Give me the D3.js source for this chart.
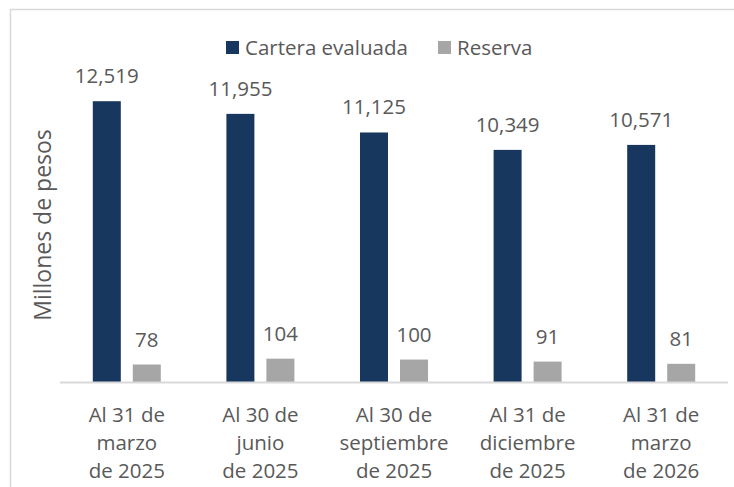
<!DOCTYPE html>
<html>
<head>
<meta charset="utf-8">
<script src="https://cdn.jsdelivr.net/npm/d3@7"></script>
<style>
  body { margin: 0; background: #fff; }
  text { font-family: "Open Sans", sans-serif; fill: #595959; }
</style>
</head>
<body>
<div id="chart"></div>
<script>
(function(){

const categories = [
  ["Al 31 de", "marzo", "de 2025"],
  ["Al 30 de", "junio", "de 2025"],
  ["Al 30 de", "septiembre", "de 2025"],
  ["Al 31 de", "diciembre", "de 2025"],
  ["Al 31 de", "marzo", "de 2026"]
];
const cartera = [12519, 11955, 11125, 10349, 10571];
const reserva = [78, 104, 100, 91, 81];
const seriesNames = ["Cartera evaluada", "Reserva"];
const colors = ["#17375e", "#a6a6a6"];

const width = 734, height = 487;
const x0 = 60, x1 = 728, baseY = 382, topY = 68;
const fs = 20.5;

const svg = d3.select("#chart").append("svg")
  .attr("width", width)
  .attr("height", height);

// chart frame (cropped on right/bottom)
svg.append("rect")
  .attr("x", 10.5).attr("y", 9.5)
  .attr("width", 740).attr("height", 500)
  .attr("fill", "none")
  .attr("stroke", "#d9d9d9")
  .attr("stroke-width", 1.5);

const x = d3.scaleBand()
  .domain(d3.range(categories.length))
  .range([x0, x1]);

const sub = d3.scaleBand()
  .domain([0, 1])
  .range([-34, 34])
  .paddingInner(0.3);

// primary axis for cartera, secondary for reserva
const y1 = d3.scaleLinear().domain([0, 14000]).range([baseY, topY]);
const y2 = d3.scaleLinear().domain([0, 1400]).range([baseY, topY]);

const fmt = d3.format(",");

const groups = svg.append("g")
  .selectAll("g")
  .data(categories)
  .enter()
  .append("g")
  .attr("transform", (d, i) => `translate(${x(i) + x.bandwidth() / 2},0)`);

groups.append("rect")
  .attr("x", sub(0))
  .attr("width", sub.bandwidth())
  .attr("y", (d, i) => y1(cartera[i]))
  .attr("height", (d, i) => baseY - y1(cartera[i]))
  .attr("fill", colors[0]);

groups.append("rect")
  .attr("x", sub(1))
  .attr("width", sub.bandwidth())
  .attr("y", (d, i) => y2(reserva[i]))
  .attr("height", (d, i) => baseY - y2(reserva[i]))
  .attr("fill", colors[1]);

groups.append("text")
  .attr("x", sub(0) + sub.bandwidth() / 2)
  .attr("y", (d, i) => y1(cartera[i]) - 18)
  .attr("text-anchor", "middle")
  .attr("font-size", fs)
  .text((d, i) => fmt(cartera[i]));

groups.append("text")
  .attr("x", sub(1) + sub.bandwidth() / 2)
  .attr("y", (d, i) => y2(reserva[i]) - 18)
  .attr("text-anchor", "middle")
  .attr("font-size", fs)
  .text((d, i) => fmt(reserva[i]));

// baseline
svg.append("line")
  .attr("x1", x0).attr("x2", x1)
  .attr("y1", baseY + 0.5).attr("y2", baseY + 0.5)
  .attr("stroke", "#d9d9d9")
  .attr("stroke-width", 2);

// category labels
const labels = groups.append("text")
  .attr("text-anchor", "middle")
  .attr("font-size", fs);
labels.selectAll("tspan")
  .data(d => d)
  .enter()
  .append("tspan")
  .attr("x", 0)
  .attr("y", (d, j) => 421.5 + j * 28.3)
  .text(d => d);

// y axis title
svg.append("text")
  .attr("transform", "translate(51,225) rotate(-90)")
  .attr("text-anchor", "middle")
  .attr("font-size", 23)
  .text("Millones de pesos");

// legend
const legendX = [226, 438];
const legend = svg.append("g")
  .selectAll("g")
  .data(seriesNames)
  .enter()
  .append("g")
  .attr("transform", (d, i) => `translate(${legendX[i]},41)`);
legend.append("rect")
  .attr("width", 13).attr("height", 13)
  .attr("fill", (d, i) => colors[i]);
legend.append("text")
  .attr("x", 19).attr("y", 14)
  .attr("font-size", fs)
  .text(d => d);

})();
</script>
</body>
</html>
